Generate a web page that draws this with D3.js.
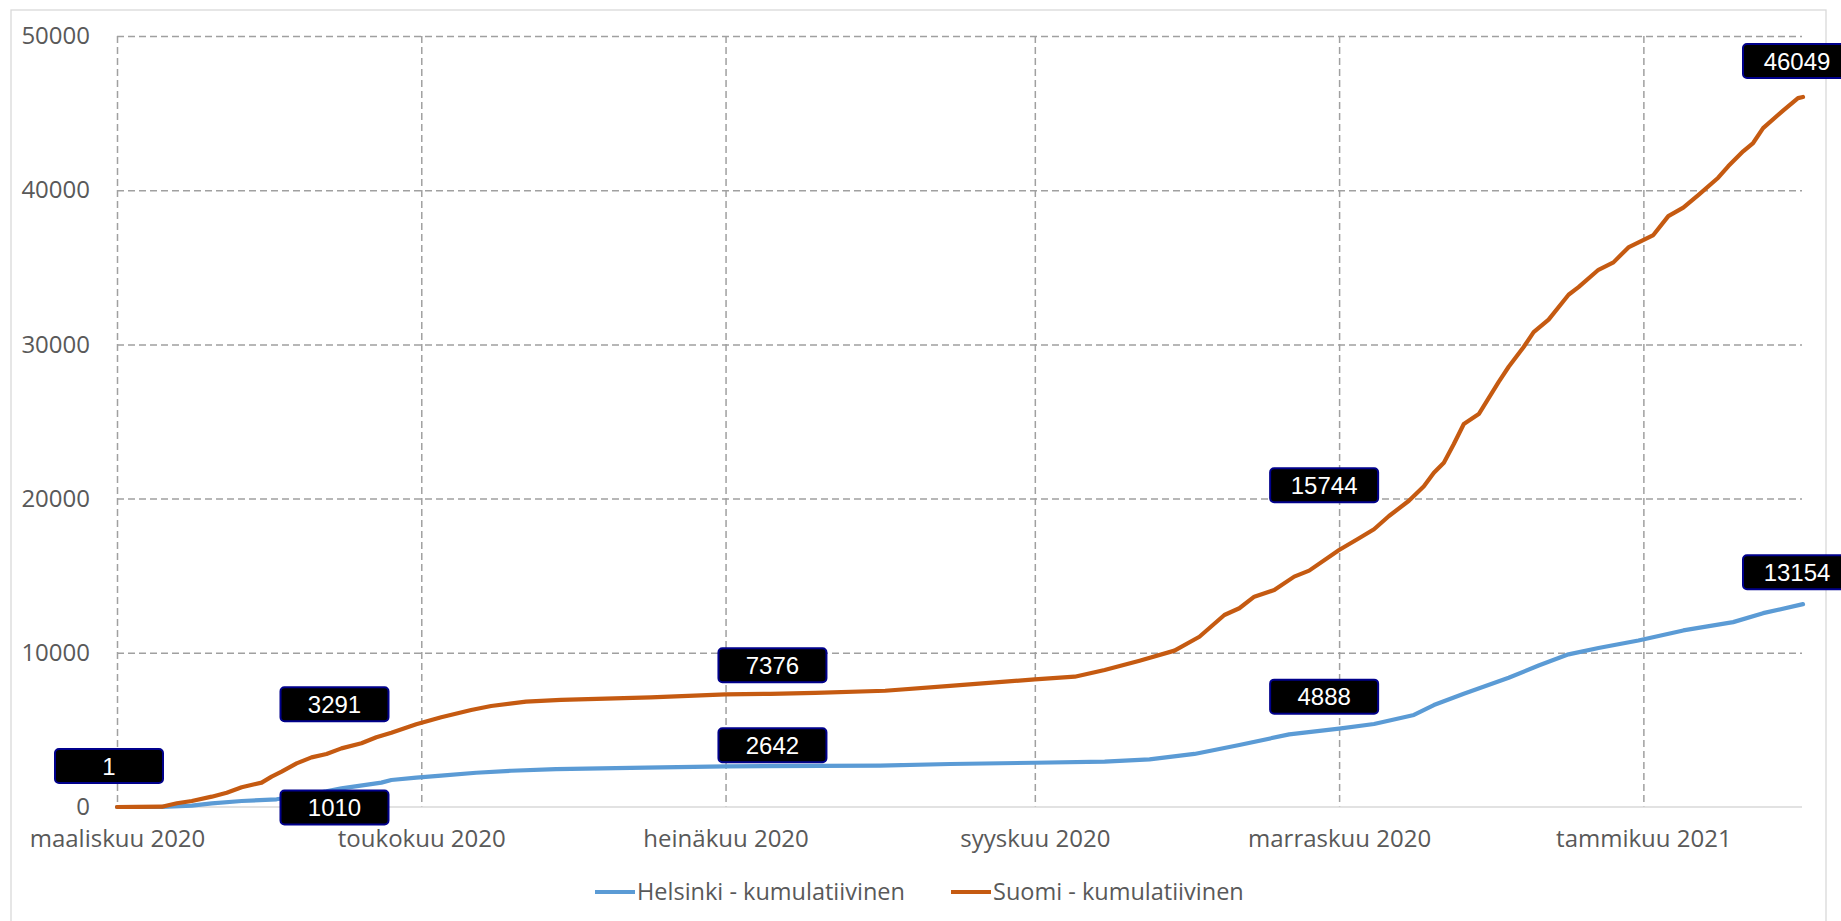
<!DOCTYPE html>
<html>
<head>
<meta charset="utf-8">
<script src="https://cdn.jsdelivr.net/npm/d3@7"></script>
<style>
  body { margin: 0; background: #fff; }
  svg { display: block; }
  .axis text { font-family: "Open Sans", sans-serif; font-size: 24px; fill: #595959; }
  .grid line { stroke: #a0a0a0; stroke-width: 1.5; stroke-dasharray: 7 4; }
  .grid path { display: none; }
  .lbl text { font-family: "Liberation Sans", Arial, sans-serif; font-size: 24px; fill: #fff; }
  .legend text { font-family: "Open Sans", sans-serif; font-size: 23.5px; fill: #595959; }
</style>
</head>
<body>
<svg width="1841" height="921"></svg>
<script>
// cumulative cases
var suomi = [
  ["2020-03-01", 1], ["2020-03-05", 5], ["2020-03-10", 20], ["2020-03-13", 240],
  ["2020-03-16", 390], ["2020-03-20", 670], ["2020-03-23", 930], ["2020-03-26", 1280],
  ["2020-03-30", 1580], ["2020-04-01", 1970], ["2020-04-03", 2290], ["2020-04-06", 2830],
  ["2020-04-09", 3220], ["2020-04-12", 3440], ["2020-04-15", 3800], ["2020-04-19", 4130],
  ["2020-04-22", 4520], ["2020-04-25", 4820], ["2020-04-30", 5360], ["2020-05-05", 5820],
  ["2020-05-11", 6290], ["2020-05-15", 6550], ["2020-05-22", 6830], ["2020-05-29", 6950],
  ["2020-06-16", 7110], ["2020-07-01", 7310], ["2020-07-10", 7340], ["2020-07-19", 7400],
  ["2020-08-02", 7540], ["2020-08-15", 7850], ["2020-09-01", 8280], ["2020-09-09", 8450],
  ["2020-09-15", 8880], ["2020-09-22", 9490], ["2020-09-29", 10140], ["2020-10-04", 11040],
  ["2020-10-09", 12450], ["2020-10-12", 12890], ["2020-10-15", 13640], ["2020-10-19", 14070],
  ["2020-10-23", 14940], ["2020-10-26", 15330], ["2020-11-01", 16670], ["2020-11-05", 17430],
  ["2020-11-08", 18010], ["2020-11-11", 18870], ["2020-11-15", 19860], ["2020-11-18", 20800],
  ["2020-11-20", 21670], ["2020-11-22", 22320], ["2020-11-24", 23540], ["2020-11-26", 24840],
  ["2020-11-29", 25480], ["2020-12-03", 27570], ["2020-12-05", 28550], ["2020-12-08", 29830],
  ["2020-12-10", 30800], ["2020-12-13", 31610], ["2020-12-17", 33220], ["2020-12-19", 33710],
  ["2020-12-23", 34840], ["2020-12-26", 35320], ["2020-12-29", 36290], ["2021-01-03", 37090],
  ["2021-01-06", 38320], ["2021-01-09", 38870], ["2021-01-12", 39680], ["2021-01-16", 40810],
  ["2021-01-18", 41550], ["2021-01-21", 42520], ["2021-01-23", 43060], ["2021-01-25", 44030],
  ["2021-01-29", 45160], ["2021-02-01", 45970], ["2021-02-02", 46049]
];

var helsinki = [
  ["2020-03-01", 0], ["2020-03-10", 5], ["2020-03-16", 90], ["2020-03-20", 240],
  ["2020-03-26", 390], ["2020-04-02", 500], ["2020-04-09", 840], ["2020-04-12", 1010],
  ["2020-04-15", 1210], ["2020-04-23", 1580], ["2020-04-25", 1750], ["2020-04-30", 1900],
  ["2020-05-05", 2030], ["2020-05-12", 2220], ["2020-05-19", 2350], ["2020-05-28", 2450],
  ["2020-06-15", 2550], ["2020-07-01", 2640], ["2020-08-01", 2680], ["2020-08-15", 2790],
  ["2020-09-01", 2870], ["2020-09-15", 2940], ["2020-09-24", 3090], ["2020-10-03", 3440],
  ["2020-10-12", 4020], ["2020-10-22", 4710], ["2020-11-01", 5080], ["2020-11-08", 5380],
  ["2020-11-16", 5970], ["2020-11-20", 6610], ["2020-11-26", 7350], ["2020-12-05", 8380],
  ["2020-12-11", 9180], ["2020-12-17", 9900], ["2020-12-23", 10310], ["2020-12-31", 10800],
  ["2021-01-09", 11450], ["2021-01-19", 11990], ["2021-01-25", 12570], ["2021-02-02", 13154]
];

var monthTicks = ["2020-03-01", "2020-05-01", "2020-07-01", "2020-09-01", "2020-11-01", "2021-01-01"];
var monthLabels = ["maaliskuu 2020", "toukokuu 2020", "heinäkuu 2020", "syyskuu 2020", "marraskuu 2020", "tammikuu 2021"];
var yTicks = [0, 10000, 20000, 30000, 40000, 50000];

// data labels: series, date, shown value, nudge in px
var labels = [
  ["suomi", "2020-03-01", 1, -8, -41],
  ["suomi", "2020-04-13", 3291, 3, -52],
  ["helsinki", "2020-04-13", 1010, 3, 16],
  ["suomi", "2020-07-10", 7376, 2, -28],
  ["helsinki", "2020-07-10", 2642, 2, -21],
  ["suomi", "2020-10-29", 15744, 0, -79],
  ["helsinki", "2020-10-29", 4888, 0, -35],
  ["suomi", "2021-02-02", 46049, -6, -36],
  ["helsinki", "2021-02-02", 13154, -6, -32]
];

var colors = {helsinki: "#5b9bd5", suomi: "#c55a11"};
var parse = d3.utcParse("%Y-%m-%d");

var svg = d3.select("svg");

// chart area border
svg.append("rect")
  .attr("x", 11).attr("y", 10)
  .attr("width", 1815).attr("height", 1000)
  .attr("fill", "#fff")
  .attr("stroke", "#d9d9d9")
  .attr("stroke-width", 1.3);

var x = d3.scaleUtc()
  .domain([parse("2020-03-01"), parse("2021-02-02")])
  .range([117, 1803]);

var y = d3.scaleLinear()
  .domain([0, 50000])
  .range([807, 36]);

// gridlines
svg.append("g")
  .attr("class", "grid")
  .attr("transform", "translate(117,0)")
  .call(d3.axisLeft(y).tickValues(yTicks.slice(1)).tickSize(-(1802 - 117)).tickFormat(""));

svg.append("g")
  .attr("class", "grid")
  .attr("transform", "translate(0,36)")
  .call(d3.axisBottom(x).tickValues(monthTicks.map(parse)).tickSize(807 - 36).tickFormat(""));

// baseline
svg.append("line")
  .attr("x1", 117).attr("x2", 1802)
  .attr("y1", y(0)).attr("y2", y(0))
  .attr("stroke", "#d9d9d9")
  .attr("stroke-width", 1.5);

// axis labels
var yAxis = svg.append("g")
  .attr("class", "axis")
  .attr("transform", "translate(117,0)")
  .call(d3.axisLeft(y).tickValues(yTicks).tickSize(0).tickPadding(27).tickFormat(d3.format("d")));
yAxis.select(".domain").remove();

var xAxis = svg.append("g")
  .attr("class", "axis")
  .attr("transform", "translate(0," + y(0) + ")")
  .call(d3.axisBottom(x).tickValues(monthTicks.map(parse)).tickSize(0).tickPadding(23)
    .tickFormat(function(d, i) { return monthLabels[i]; }));
xAxis.select(".domain").remove();

// series
var line = d3.line()
  .x(function(d) { return x(parse(d[0])); })
  .y(function(d) { return y(d[1]); });

[["helsinki", helsinki], ["suomi", suomi]].forEach(function(s) {
  svg.append("path")
    .datum(s[1])
    .attr("fill", "none")
    .attr("stroke", colors[s[0]])
    .attr("stroke-width", 4.2)
    .attr("stroke-linejoin", "round")
    .attr("stroke-linecap", "round")
    .attr("d", line);
});

// data label boxes
var lbl = svg.selectAll(".lbl")
  .data(labels)
  .enter().append("g")
    .attr("class", "lbl")
    .attr("transform", function(d) {
      return "translate(" + (x(parse(d[1])) + d[3]) + "," + (y(d[2]) + d[4]) + ")";
    });

lbl.append("rect")
  .attr("x", -54).attr("y", -17)
  .attr("width", 108).attr("height", 34)
  .attr("rx", 4)
  .attr("fill", "#000")
  .attr("stroke", "#00008b")
  .attr("stroke-width", 2);

lbl.append("text")
  .attr("text-anchor", "middle")
  .attr("dy", "0.36em")
  .text(function(d) { return d[2]; });

// legend
var legendItems = [["helsinki", "Helsinki - kumulatiivinen", 595], ["suomi", "Suomi - kumulatiivinen", 951]];
var legend = svg.selectAll(".legend")
  .data(legendItems)
  .enter().append("g")
    .attr("class", "legend")
    .attr("transform", function(d) { return "translate(" + d[2] + ",892)"; });

legend.append("line")
  .attr("x1", 0).attr("x2", 40)
  .attr("stroke", function(d) { return colors[d[0]]; })
  .attr("stroke-width", 4.2);

legend.append("text")
  .attr("x", 42)
  .attr("dy", "0.35em")
  .text(function(d) { return d[1]; });
</script>
</body>
</html>
